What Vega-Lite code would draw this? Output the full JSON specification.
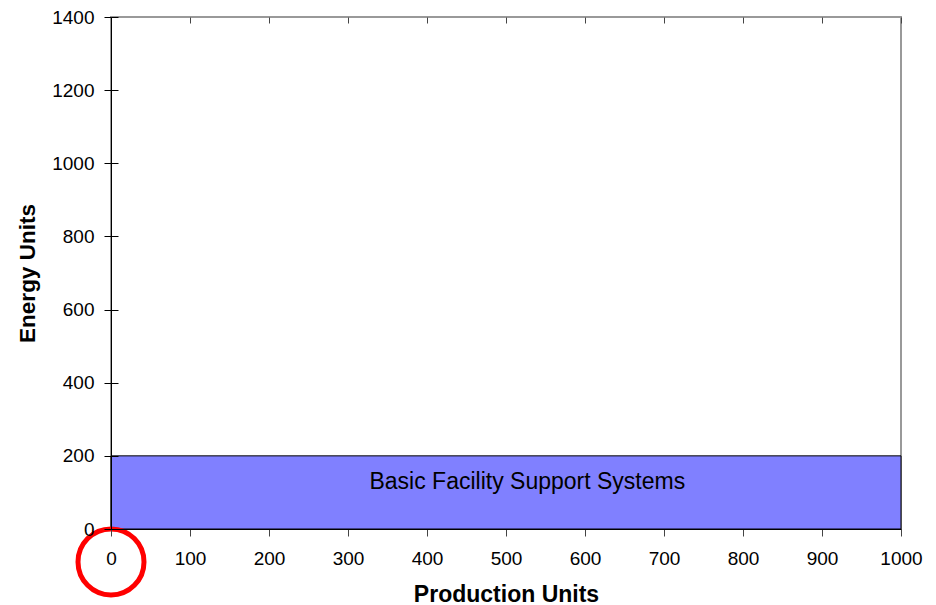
{
  "$schema": "https://vega.github.io/schema/vega-lite/v6.json",
  "width": 790,
  "height": 512,
  "autosize": {"type": "none"},
  "padding": {"left": 111, "top": 17, "right": 35, "bottom": 76},
  "background": "white",
  "config": {
    "view": {"stroke": "#999999", "strokeWidth": 2},
    "font": "Liberation Sans",
    "axis": {"labelFont": "Liberation Sans", "titleFont": "Liberation Sans"}
  },
  "datasets": {
    "bands": [
      {"name": "Basic Facility Support Systems", "x0": 0, "x1": 1000, "y0": 0, "y1": 200, "labelX": 527, "labelY": 128}
    ],
    "highlight": [
      {"x": 0, "y": -90}
    ]
  },
  "layer": [
    {
      "data": {"name": "bands"},
      "mark": {"type": "rect", "fill": "#8080ff", "stroke": "black", "strokeWidth": 1},
      "encoding": {
        "x": {
          "field": "x0", "type": "quantitative", "title": "Production Units",
          "scale": {"domain": [0, 1000], "nice": false},
          "axis": {
            "title": "Production Units", "format": "d",
            "values": [0, 100, 200, 300, 400, 500, 600, 700, 800, 900, 1000],
            "tickSize": 7, "tickColor": "#444444", "tickWidth": 1,
            "domainColor": "black", "domainWidth": 1,
            "labelFontSize": 19, "labelColor": "black", "labelPadding": 13,
            "labelFlush": false, "labelOverlap": false, "labelBound": false,
            "grid": true, "gridColor": "#444444", "gridDash": [6, 2000], "gridOpacity": 1, "gridWidth": 1,
            "titleFontSize": 23, "titleFontWeight": "bold", "titleColor": "black", "titlePadding": 15,
            "zindex": 1
          }
        },
        "x2": {"field": "x1"},
        "y": {
          "field": "y0", "type": "quantitative", "title": "Energy Units",
          "scale": {"domain": [0, 1400], "nice": false},
          "axis": {
            "title": "Energy Units", "format": "d",
            "values": [0, 200, 400, 600, 800, 1000, 1200, 1400],
            "tickSize": 7, "tickColor": "black", "tickWidth": 1,
            "domainColor": "black", "domainWidth": 1,
            "labelFontSize": 19, "labelColor": "black", "labelPadding": 10,
            "labelFlush": false, "labelOverlap": false, "labelBound": false,
            "grid": true, "gridColor": "black", "gridDash": [7, 2000], "gridOpacity": 1, "gridWidth": 1,
            "titleFontSize": 22.5, "titleFontWeight": "bold", "titleColor": "black", "titlePadding": 12,
            "zindex": 1
          }
        },
        "y2": {"field": "y1"}
      }
    },
    {
      "data": {"name": "bands"},
      "mark": {"type": "text", "fontSize": 23, "font": "Liberation Sans", "color": "black", "align": "center", "baseline": "middle"},
      "encoding": {
        "x": {"field": "labelX", "type": "quantitative", "title": "Production Units"},
        "y": {"field": "labelY", "type": "quantitative", "title": "Energy Units"},
        "text": {"field": "name"}
      }
    },
    {
      "data": {"name": "highlight"},
      "mark": {"type": "point", "shape": "circle", "filled": false, "stroke": "#ff0000", "strokeWidth": 5, "size": 4356, "opacity": 1, "clip": false},
      "encoding": {
        "x": {"field": "x", "type": "quantitative", "title": "Production Units"},
        "y": {"field": "y", "type": "quantitative", "title": "Energy Units"}
      }
    }
  ]
}
